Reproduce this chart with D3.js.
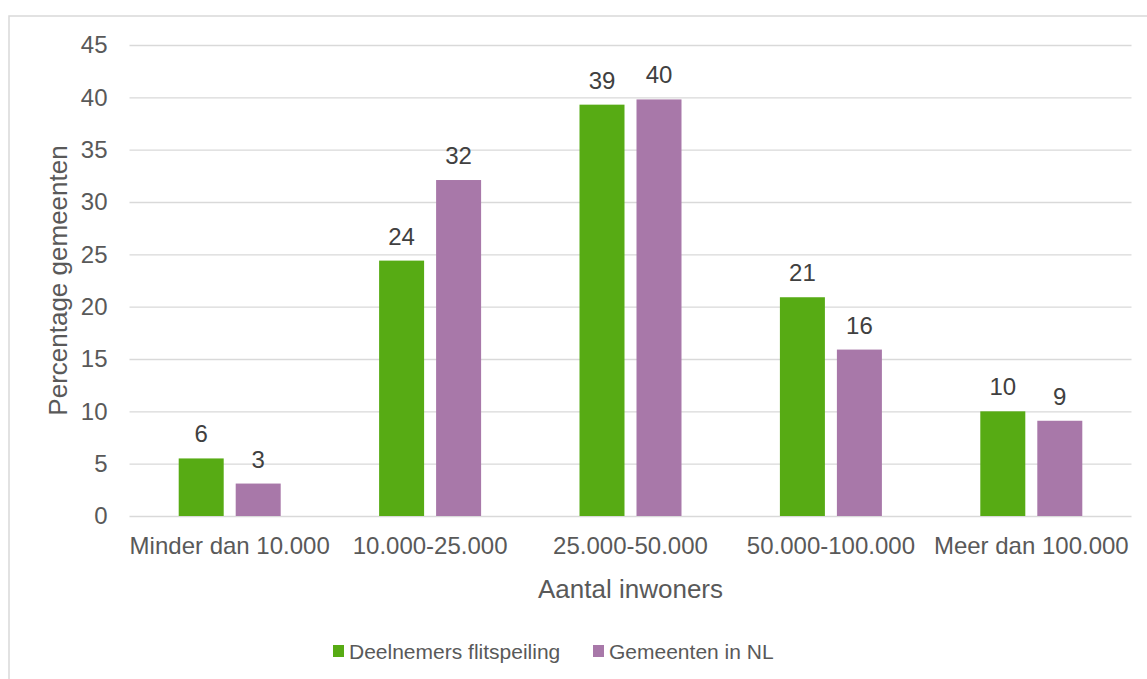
<!DOCTYPE html>
<html>
<head>
<meta charset="utf-8">
<script src="https://cdn.jsdelivr.net/npm/d3@7"></script>
<style>
  html, body { margin: 0; padding: 0; background: #fff; }
  svg { display: block; font-family: "Liberation Sans", Arial, sans-serif; }
</style>
</head>
<body>
<svg id="chart" width="1147" height="679"></svg>
<script>
const categories = ["Minder dan 10.000", "10.000-25.000", "25.000-50.000", "50.000-100.000", "Meer dan 100.000"];
const seriesNames = ["Deelnemers flitspeiling", "Gemeenten in NL"];
const deelnemers = [5.5, 24.4, 39.3, 20.9, 10.0];
const gemeenten = [3.1, 32.1, 39.8, 15.9, 9.1];
const yTicks = [0, 5, 10, 15, 20, 25, 30, 35, 40, 45];
const colors = ["#57AB14", "#A878A9"];
const xTitle = "Aantal inwoners";
const yTitle = "Percentage gemeenten";

const seriesValues = [deelnemers, gemeenten];
const svg = d3.select("#chart");
const textColor = "#595959";
const gridColor = "#D9D9D9";

const plot = { left: 129.5, right: 1131.5, top: 45, bottom: 516 };

// chart border
svg.append("rect")
  .attr("x", 9).attr("y", 16)
  .attr("width", 1150).attr("height", 680)
  .attr("fill", "none").attr("stroke", gridColor).attr("stroke-width", 1.5);

const x0 = d3.scaleBand().domain(categories).range([plot.left, plot.right]).padding(0);
const bw = x0.bandwidth();
const groupPad = (bw - 102) / 2;
const x1 = d3.scaleBand().domain(seriesNames).range([groupPad, bw - groupPad]).paddingInner(0.2105).paddingOuter(0);
const y = d3.scaleLinear().domain([0, 45]).range([plot.bottom, plot.top]);

// y axis with gridlines
const yAxis = svg.append("g")
  .attr("transform", `translate(${plot.left},0)`)
  .call(d3.axisLeft(y).tickValues(yTicks).tickSize(-(plot.right - plot.left)).tickPadding(22).tickFormat(d3.format("d")));
yAxis.select(".domain").remove();
yAxis.selectAll(".tick line").attr("stroke", gridColor).attr("stroke-width", 1.4);
yAxis.selectAll(".tick text").attr("fill", textColor).attr("font-size", 24)
  .attr("font-family", "Liberation Sans, Arial, sans-serif");

// x axis
const xAxis = svg.append("g")
  .attr("transform", `translate(0,${plot.bottom})`)
  .call(d3.axisBottom(x0).tickSize(0).tickPadding(21));
xAxis.select(".domain").remove();
xAxis.selectAll(".tick text").attr("fill", textColor).attr("font-size", 24)
  .attr("font-family", "Liberation Sans, Arial, sans-serif");

// bars
const groups = svg.append("g").selectAll("g")
  .data(categories)
  .join("g")
  .attr("transform", d => `translate(${x0(d)},0)`);

groups.selectAll("rect")
  .data((d, i) => seriesNames.map((s, j) => ({ s, v: seriesValues[j][i], j })))
  .join("rect")
  .attr("x", d => x1(d.s))
  .attr("width", x1.bandwidth())
  .attr("y", d => y(d.v))
  .attr("height", d => y(0) - y(d.v))
  .attr("fill", d => colors[d.j]);

groups.selectAll("text")
  .data((d, i) => seriesNames.map((s, j) => ({ s, v: seriesValues[j][i], j })))
  .join("text")
  .attr("x", d => x1(d.s) + x1.bandwidth() / 2)
  .attr("y", d => y(d.v) - 16)
  .attr("text-anchor", "middle")
  .attr("font-size", 24)
  .attr("fill", "#404040")
  .text(d => Math.round(d.v));

// axis titles
svg.append("text")
  .attr("x", (plot.left + plot.right) / 2)
  .attr("y", 598)
  .attr("text-anchor", "middle")
  .attr("font-size", 26)
  .attr("fill", textColor)
  .text(xTitle);

svg.append("text")
  .attr("transform", `translate(67,${(plot.top + plot.bottom) / 2}) rotate(-90)`)
  .attr("text-anchor", "middle")
  .attr("font-size", 26)
  .attr("fill", textColor)
  .text(yTitle);

// legend
const legendX = [333, 593];
const legend = svg.append("g").selectAll("g")
  .data(seriesNames)
  .join("g")
  .attr("transform", (d, i) => `translate(${legendX[i]},645)`);
legend.append("rect").attr("width", 11).attr("height", 12).attr("fill", (d, i) => colors[i]);
legend.append("text").attr("x", 16).attr("y", 14)
  .attr("font-size", 21).attr("fill", textColor).text(d => d);
</script>
</body>
</html>
